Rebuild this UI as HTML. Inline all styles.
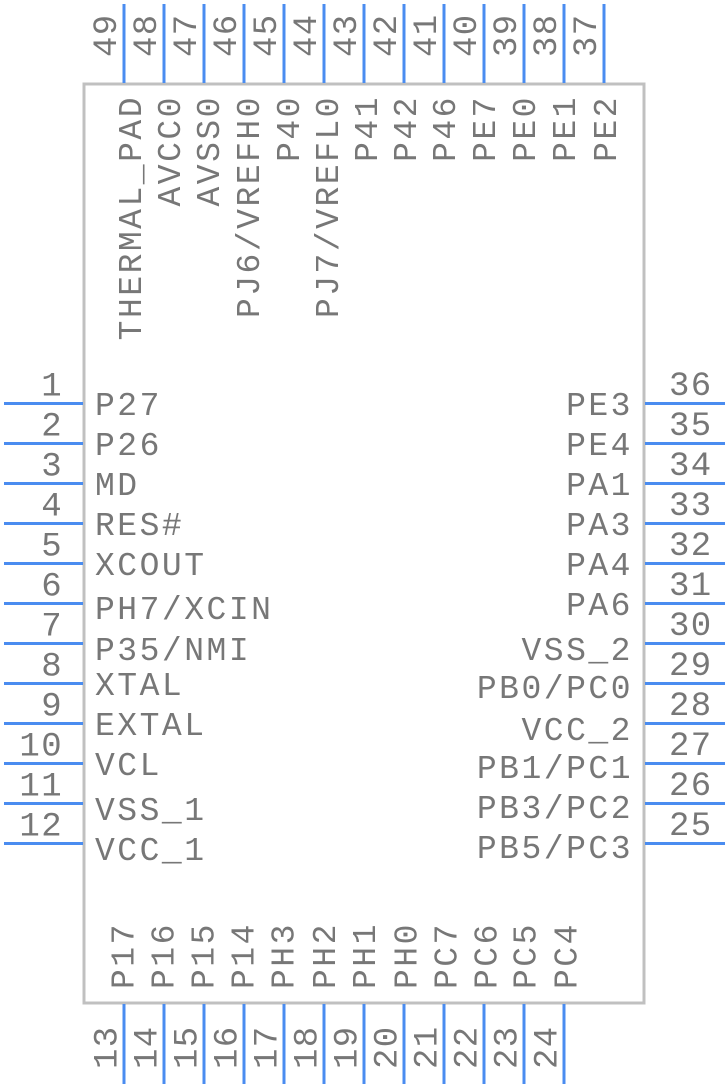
<!DOCTYPE html>
<html>
<head>
<meta charset="utf-8">
<style>
  html, body { margin: 0; padding: 0; background: #ffffff; }
  svg { display: block; }
  .lbl { font-family: "Liberation Mono", "DejaVu Sans Mono", monospace; font-size: 33px; letter-spacing: 2.5px; fill: #777777; }
  .num { font-family: "Liberation Mono", "DejaVu Sans Mono", monospace; font-size: 34px; letter-spacing: 1.4px; fill: #777777; }
  .pin { stroke: #4a8cf0; stroke-width: 3; }
</style>
</head>
<body>
<svg width="728" height="1088" viewBox="0 0 728 1088" xmlns="http://www.w3.org/2000/svg">
  <rect x="0" y="0" width="728" height="1088" fill="#ffffff"/>

  <!-- Body -->
  <rect x="84" y="84" width="560" height="919" fill="none" stroke="#c0c0c0" stroke-width="3"/>

  <!-- Left pins -->
  <g class="pin">
    <line x1="4" y1="403.5" x2="83" y2="403.5"/>
    <line x1="4" y1="443.5" x2="83" y2="443.5"/>
    <line x1="4" y1="483.5" x2="83" y2="483.5"/>
    <line x1="4" y1="523.5" x2="83" y2="523.5"/>
    <line x1="4" y1="563.5" x2="83" y2="563.5"/>
    <line x1="4" y1="603.5" x2="83" y2="603.5"/>
    <line x1="4" y1="643.5" x2="83" y2="643.5"/>
    <line x1="4" y1="683.5" x2="83" y2="683.5"/>
    <line x1="4" y1="723.5" x2="83" y2="723.5"/>
    <line x1="4" y1="763.5" x2="83" y2="763.5"/>
    <line x1="4" y1="803.5" x2="83" y2="803.5"/>
    <line x1="4" y1="843.5" x2="83" y2="843.5"/>
  </g>
  <!-- Right pins -->
  <g class="pin">
    <line x1="645" y1="403.5" x2="725" y2="403.5"/>
    <line x1="645" y1="443.5" x2="725" y2="443.5"/>
    <line x1="645" y1="483.5" x2="725" y2="483.5"/>
    <line x1="645" y1="523.5" x2="725" y2="523.5"/>
    <line x1="645" y1="563.5" x2="725" y2="563.5"/>
    <line x1="645" y1="603.5" x2="725" y2="603.5"/>
    <line x1="645" y1="643.5" x2="725" y2="643.5"/>
    <line x1="645" y1="683.5" x2="725" y2="683.5"/>
    <line x1="645" y1="723.5" x2="725" y2="723.5"/>
    <line x1="645" y1="763.5" x2="725" y2="763.5"/>
    <line x1="645" y1="803.5" x2="725" y2="803.5"/>
    <line x1="645" y1="843.5" x2="725" y2="843.5"/>
  </g>
  <!-- Top pins -->
  <g class="pin">
    <line x1="124" y1="4" x2="124" y2="83"/>
    <line x1="164" y1="4" x2="164" y2="83"/>
    <line x1="204" y1="4" x2="204" y2="83"/>
    <line x1="244" y1="4" x2="244" y2="83"/>
    <line x1="284" y1="4" x2="284" y2="83"/>
    <line x1="324" y1="4" x2="324" y2="83"/>
    <line x1="364" y1="4" x2="364" y2="83"/>
    <line x1="404" y1="4" x2="404" y2="83"/>
    <line x1="444" y1="4" x2="444" y2="83"/>
    <line x1="484" y1="4" x2="484" y2="83"/>
    <line x1="524" y1="4" x2="524" y2="83"/>
    <line x1="564" y1="4" x2="564" y2="83"/>
    <line x1="604" y1="4" x2="604" y2="83"/>
  </g>
  <!-- Bottom pins -->
  <g class="pin">
    <line x1="124" y1="1004" x2="124" y2="1084"/>
    <line x1="164" y1="1004" x2="164" y2="1084"/>
    <line x1="204" y1="1004" x2="204" y2="1084"/>
    <line x1="244" y1="1004" x2="244" y2="1084"/>
    <line x1="284" y1="1004" x2="284" y2="1084"/>
    <line x1="324" y1="1004" x2="324" y2="1084"/>
    <line x1="364" y1="1004" x2="364" y2="1084"/>
    <line x1="404" y1="1004" x2="404" y2="1084"/>
    <line x1="444" y1="1004" x2="444" y2="1084"/>
    <line x1="484" y1="1004" x2="484" y2="1084"/>
    <line x1="524" y1="1004" x2="524" y2="1084"/>
    <line x1="564" y1="1004" x2="564" y2="1084"/>
  </g>

  <!-- Left pin numbers -->
  <g class="num" text-anchor="end">
    <text x="63" y="395.5">1</text>
    <text x="63" y="435.5">2</text>
    <text x="63" y="475.5">3</text>
    <text x="63" y="515.5">4</text>
    <text x="63" y="555.5">5</text>
    <text x="63" y="595.5">6</text>
    <text x="63" y="635.5">7</text>
    <text x="63" y="675.5">8</text>
    <text x="63" y="715.5">9</text>
    <text x="63" y="755.5">10</text>
    <text x="63" y="795.5">11</text>
    <text x="63" y="835.5">12</text>
  </g>
  <!-- Right pin numbers -->
  <g class="num">
    <text x="669" y="395">36</text>
    <text x="669" y="435">35</text>
    <text x="669" y="475">34</text>
    <text x="669" y="515">33</text>
    <text x="669" y="555">32</text>
    <text x="669" y="595">31</text>
    <text x="669" y="635">30</text>
    <text x="669" y="675">29</text>
    <text x="669" y="715">28</text>
    <text x="669" y="755">27</text>
    <text x="669" y="795">26</text>
    <text x="669" y="835">25</text>
  </g>
  <!-- Top pin numbers -->
  <g class="num">
    <text transform="translate(116,57) rotate(-90)">49</text>
    <text transform="translate(156,57) rotate(-90)">48</text>
    <text transform="translate(196,57) rotate(-90)">47</text>
    <text transform="translate(236,57) rotate(-90)">46</text>
    <text transform="translate(276,57) rotate(-90)">45</text>
    <text transform="translate(316,57) rotate(-90)">44</text>
    <text transform="translate(356,57) rotate(-90)">43</text>
    <text transform="translate(396,57) rotate(-90)">42</text>
    <text transform="translate(436,57) rotate(-90)">41</text>
    <text transform="translate(476,57) rotate(-90)">40</text>
    <text transform="translate(516,57) rotate(-90)">39</text>
    <text transform="translate(556,57) rotate(-90)">38</text>
    <text transform="translate(596,57) rotate(-90)">37</text>
  </g>
  <!-- Bottom pin numbers -->
  <g class="num">
    <text transform="translate(116.5,1069) rotate(-90)">13</text>
    <text transform="translate(156.5,1069) rotate(-90)">14</text>
    <text transform="translate(196.5,1069) rotate(-90)">15</text>
    <text transform="translate(236.5,1069) rotate(-90)">16</text>
    <text transform="translate(276.5,1069) rotate(-90)">17</text>
    <text transform="translate(316.5,1069) rotate(-90)">18</text>
    <text transform="translate(356.5,1069) rotate(-90)">19</text>
    <text transform="translate(396.5,1069) rotate(-90)">20</text>
    <text transform="translate(436.5,1069) rotate(-90)">21</text>
    <text transform="translate(476.5,1069) rotate(-90)">22</text>
    <text transform="translate(516.5,1069) rotate(-90)">23</text>
    <text transform="translate(556.5,1069) rotate(-90)">24</text>
  </g>

  <!-- Left labels -->
  <g class="lbl">
    <text x="95" y="415">P27</text>
    <text x="95" y="455">P26</text>
    <text x="95" y="495">MD</text>
    <text x="95" y="535">RES#</text>
    <text x="95" y="575">XCOUT</text>
    <text x="95" y="619">PH7/XCIN</text>
    <text x="95" y="660">P35/NMI</text>
    <text x="95" y="695">XTAL</text>
    <text x="95" y="735">EXTAL</text>
    <text x="95" y="775">VCL</text>
    <text x="95" y="820">VSS_1</text>
    <text x="95" y="860">VCC_1</text>
  </g>
  <!-- Right labels -->
  <g class="lbl" text-anchor="end">
    <text x="633" y="415">PE3</text>
    <text x="633" y="455">PE4</text>
    <text x="633" y="495">PA1</text>
    <text x="633" y="535">PA3</text>
    <text x="633" y="575">PA4</text>
    <text x="633" y="615">PA6</text>
    <text x="633" y="660">VSS_2</text>
    <text x="633" y="698">PB0/PC0</text>
    <text x="633" y="740">VCC_2</text>
    <text x="633" y="778">PB1/PC1</text>
    <text x="633" y="818">PB3/PC2</text>
    <text x="633" y="858">PB5/PC3</text>
  </g>
  <!-- Top labels -->
  <g class="lbl" text-anchor="end">
    <text transform="translate(141,95) rotate(-90)">THERMAL_PAD</text>
    <text transform="translate(180,95) rotate(-90)">AVCC0</text>
    <text transform="translate(219,95) rotate(-90)">AVSS0</text>
    <text transform="translate(259,95) rotate(-90)">PJ6/VREFH0</text>
    <text transform="translate(299,95) rotate(-90)">P40</text>
    <text transform="translate(338,95) rotate(-90)">PJ7/VREFL0</text>
    <text transform="translate(377,95) rotate(-90)">P41</text>
    <text transform="translate(416,95) rotate(-90)">P42</text>
    <text transform="translate(455,95) rotate(-90)">P46</text>
    <text transform="translate(495,95) rotate(-90)">PE7</text>
    <text transform="translate(535,95) rotate(-90)">PE0</text>
    <text transform="translate(575,95) rotate(-90)">PE1</text>
    <text transform="translate(616,95) rotate(-90)">PE2</text>
  </g>
  <!-- Bottom labels -->
  <g class="lbl">
    <text transform="translate(133.5,989) rotate(-90)">P17</text>
    <text transform="translate(173.5,989) rotate(-90)">P16</text>
    <text transform="translate(213.5,989) rotate(-90)">P15</text>
    <text transform="translate(253.5,989) rotate(-90)">P14</text>
    <text transform="translate(293.5,989) rotate(-90)">PH3</text>
    <text transform="translate(335,989) rotate(-90)">PH2</text>
    <text transform="translate(375,989) rotate(-90)">PH1</text>
    <text transform="translate(416.5,989) rotate(-90)">PH0</text>
    <text transform="translate(456.5,989) rotate(-90)">PC7</text>
    <text transform="translate(496.5,989) rotate(-90)">PC6</text>
    <text transform="translate(535.5,989) rotate(-90)">PC5</text>
    <text transform="translate(576.5,989) rotate(-90)">PC4</text>
  </g>
</svg>
</body>
</html>
